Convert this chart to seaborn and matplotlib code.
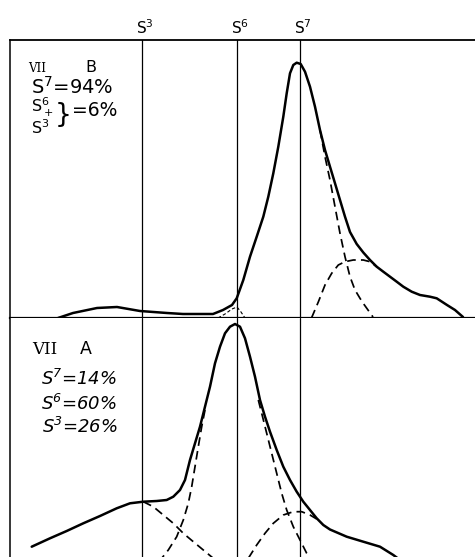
import matplotlib
matplotlib.use("Agg")
import matplotlib.pyplot as plt
import matplotlib.transforms as mtransforms
import seaborn as sns

# ---- data (channel position, relative intensity) ----
sig_pos = [142, 237, 300]
sig_labels = ["$S^3$", "$S^6$", "$S^7$"]

# Sample VII B
b_total_x = [58, 73, 97, 117, 140, 167, 183, 213, 223, 232, 236.7, 243.3, 250, 256.7, 263.3, 268.3, 273.3,
             278.3, 283.3, 286.7, 290, 293.3, 296.7, 300.7, 305, 310, 315, 320, 325, 330, 335, 340, 345,
             350, 356.7, 363.3, 370, 376.7, 383.3, 390, 396.7, 403.3, 411.7, 420, 430, 436.7, 447, 455, 463]
b_total_y = [0, 5, 10, 11, 7, 5, 4, 4, 8, 13, 19.7, 38, 61.3, 81.3, 101.3, 121.3, 144.7,
             171.3, 201.3, 224.7, 244.7, 253, 255.3, 254, 246.3, 231.3, 211.3, 188, 168, 151.3, 134.7, 118, 101.3,
             86, 74, 65.5, 58, 51.3, 46.3, 41.3, 36.3, 31.3, 26.3, 23, 21.3, 19.7, 13, 8, 1]
b_s7_x = [320, 325, 330, 335, 340, 345, 350, 355, 360, 363, 368, 373]
b_s7_y = [188, 161.3, 138, 111.3, 84.7, 61.3, 41.3, 28, 19.7, 15, 8, 1]
b_hi_x = [311.5, 318.3, 325, 331.7, 338.3, 345, 353.3, 363.3, 370, 376.7]
b_hi_y = [0, 16, 33, 44.7, 53, 56.3, 58, 58, 56.3, 51.3]
b_s6_x = [218, 225, 232, 237, 241, 245]
b_s6_y = [0, 4, 9, 11, 6, 0]

# Sample VII A
a_total_x = [31.7, 50, 66.7, 83.3, 100, 116.7, 130, 143.3, 156.7, 166.7, 173.3, 180, 185, 190, 195, 200, 205,
             210, 215, 220, 225, 230, 235, 240, 245, 250, 255, 260, 265, 270, 276.7, 283.3, 290, 296.7,
             303.3, 310, 316.7, 323.3, 330, 346.7, 363.3, 380, 393.3, 400]
a_total_y = [33.3, 41.7, 49, 56.7, 64, 71.7, 76.7, 78.3, 79, 80, 83.3, 90, 100, 120, 136.7, 153.3, 173.3,
             193.3, 216.7, 233.3, 246.7, 253.3, 256, 253.3, 241.7, 223.3, 203.3, 180, 163.3, 148.3, 130, 113.3, 100, 88.3,
             78.3, 70, 61.7, 55, 50.5, 43.3, 38.3, 33.3, 25, 20]
a_s3_x = [143.3, 153.3, 163.3, 173.3, 183.3, 193.3, 203.3, 213.3, 218]
a_s3_y = [78.3, 73.3, 65, 56.7, 46.7, 38.3, 30, 21.7, 18]
a_s6l_x = [205, 201.7, 198.3, 195, 191.7, 188.3, 183.3, 176.7, 168.3, 161.7, 158]
a_s6l_y = [170, 153.3, 133.3, 113.3, 93.3, 76.7, 60, 43.3, 30, 21.7, 18]
a_s6r_x = [258.3, 261.7, 266.7, 271.7, 276.7, 281.7, 286.7, 293.3, 300, 306.7, 311.7, 313]
a_s6r_y = [180, 166.7, 146.7, 126.7, 106.7, 86.7, 70, 53.3, 40, 26.7, 20, 18]
a_s7_x = [246, 248.3, 256.7, 265, 273.3, 283.3, 293.3, 301.7, 310, 316.7]
a_s7_y = [18, 21.7, 35, 46.7, 56.7, 65, 68.3, 68.3, 65, 61]

sns.set_style("white")
plt.rcParams["font.family"] = ["DejaVu Sans"]
plt.rcParams["text.color"] = "black"
plt.rcParams["mathtext.default"] = "regular"

W, H = 475, 557
fig = plt.figure(figsize=(W / 100, H / 100), dpi=100)
ax_b = fig.add_axes([10 / W, 1 - 318 / H, 465 / W, 278 / H])
ax_a = fig.add_axes([10 / W, 0, 465 / W, 239 / H])

solid_kw = dict(color="black", lw=1.8, sort=False, estimator=None, solid_joinstyle="round",
                solid_capstyle="round")
dash_kw = dict(color="black", lw=1.25, sort=False, estimator=None, linestyle=(0, (5, 3)))

for ax in (ax_b, ax_a):
    ax.set_xlim(10, 475)
    for p in sig_pos:
        ax.axvline(p, color="black", lw=0.9)

# top panel
sns.lineplot(x=b_total_x, y=b_total_y, ax=ax_b, **solid_kw)
sns.lineplot(x=b_s7_x, y=b_s7_y, ax=ax_b, **dash_kw)
sns.lineplot(x=b_hi_x, y=b_hi_y, ax=ax_b, **dash_kw)
sns.lineplot(x=b_s6_x, y=b_s6_y, ax=ax_b, color="black", lw=0.8, sort=False, estimator=None,
             linestyle=(0, (3, 2)))
ax_b.set_ylim(0, 278)

# bottom panel
sns.lineplot(x=a_total_x, y=a_total_y, ax=ax_a, **solid_kw)
for xs, ys in [(a_s3_x, a_s3_y), (a_s6l_x, a_s6l_y), (a_s6r_x, a_s6r_y), (a_s7_x, a_s7_y)]:
    sns.lineplot(x=xs, y=ys, ax=ax_a, **dash_kw)
ax_a.set_ylim(23, 262)

for ax in (ax_b, ax_a):
    ax.set_xticks([])
    ax.set_yticks([])
    ax.set_xlabel("")
    ax.set_ylabel("")

# spines
for s in ax_b.spines.values():
    s.set_color("black")
ax_b.spines["right"].set_visible(False)
ax_b.spines["top"].set_linewidth(1.3)
ax_b.spines["left"].set_linewidth(1.1)
ax_b.spines["bottom"].set_linewidth(1.6)
for k in ("right", "top", "bottom"):
    ax_a.spines[k].set_visible(False)
ax_a.spines["left"].set_color("black")
ax_a.spines["left"].set_linewidth(1.1)

# labels above the peaks
trans = mtransforms.blended_transform_factory(ax_b.transData, ax_b.transAxes)
for p, lab in zip(sig_pos, sig_labels):
    ax_b.text(p - 6, 1.012, lab, transform=trans, ha="left", va="bottom", fontsize=11)

# annotation texts, top panel
ax_b.text(28, 250, "VII", fontsize=8.5, family="DejaVu Serif", ha="left", va="center")
ax_b.text(85, 250, "B", fontsize=11.5, ha="left", va="center")
ax_b.text(31, 231, "$S^7$=94%", fontsize=14, ha="left", va="center")
ax_b.text(31, 202, "$S^6_+$\n$S^3$", fontsize=11.5, ha="left", va="center", linespacing=0.95)
ax_b.text(55, 203, "}", fontsize=19, ha="left", va="center")
ax_b.text(72, 207, "=6%", fontsize=13.5, ha="left", va="center")

# annotation texts, bottom panel
ax_a.text(32, 230, "VII", fontsize=12, family="DejaVu Serif", ha="left", va="center")
ax_a.text(80, 231, "A", fontsize=12.5, ha="left", va="center")
ax_a.text(41, 201, "$S^7$=14%", fontsize=13, style="italic", ha="left", va="center")
ax_a.text(41, 176, "$S^6$=60%", fontsize=13, style="italic", ha="left", va="center")
ax_a.text(42, 153, "$S^3$=26%", fontsize=13, style="italic", ha="left", va="center")

fig.savefig("out.png", dpi=100, facecolor="white")
